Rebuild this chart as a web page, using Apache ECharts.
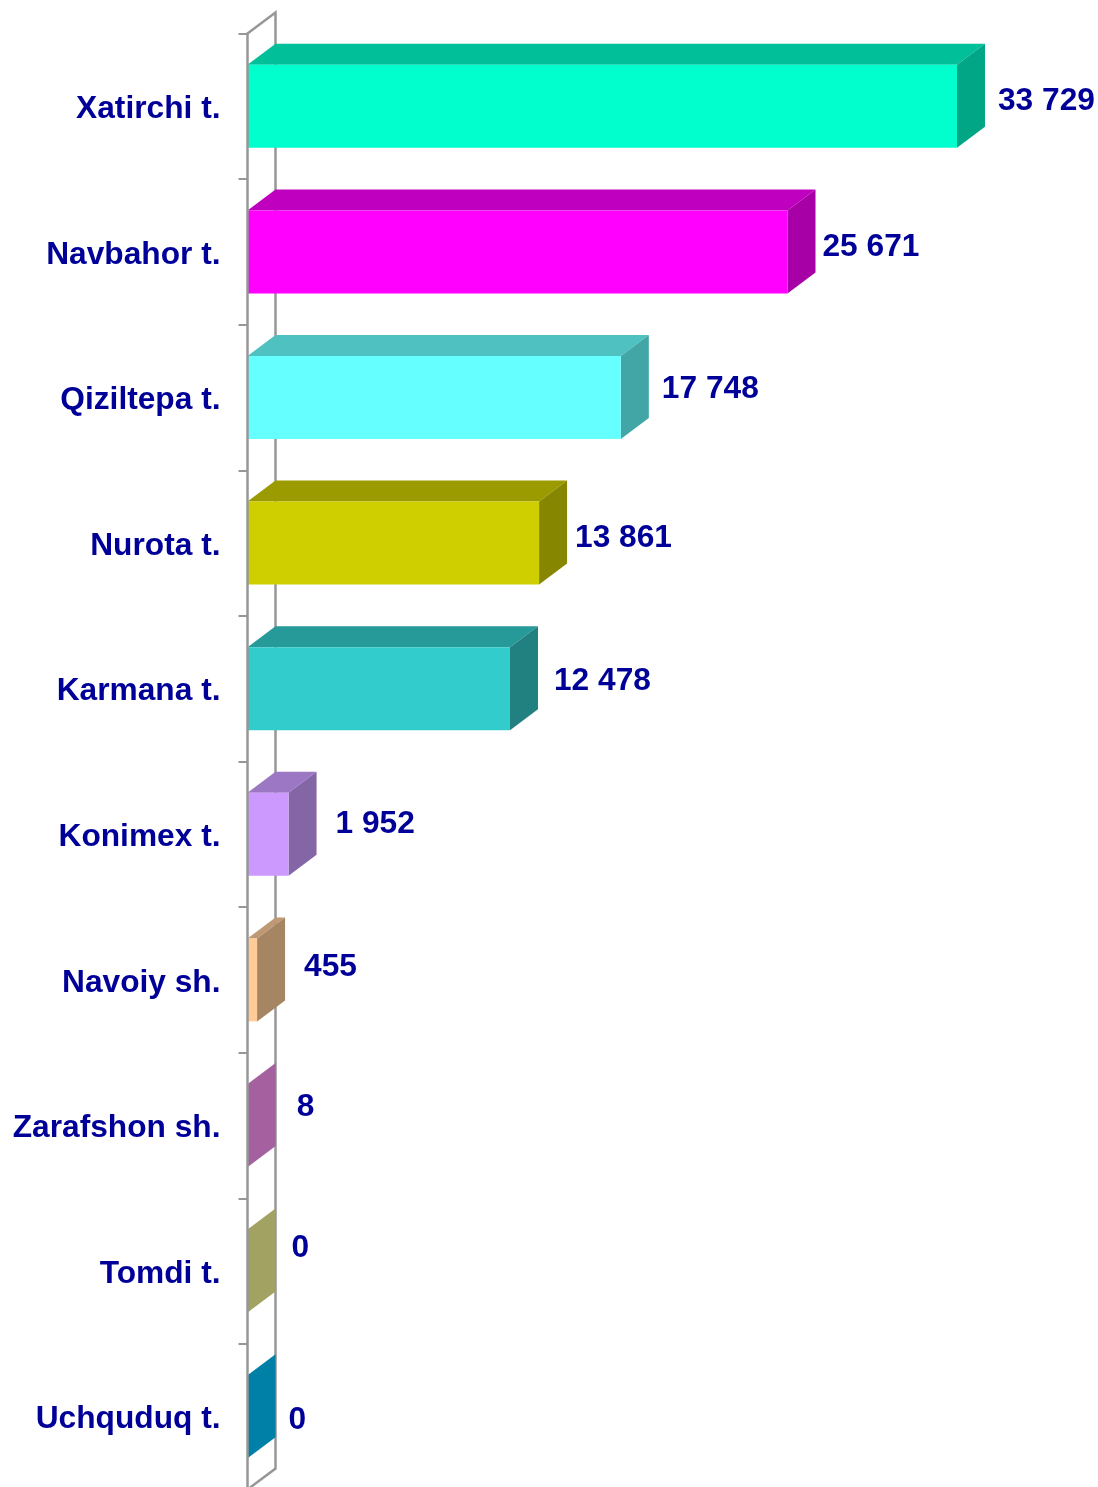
<!DOCTYPE html>
<html>
<head>
<meta charset="utf-8">
<style>
html, body { margin: 0; padding: 0; background: #fff; }
#chart { width: 1098px; height: 1487px; }
</style>
<script src="https://cdn.jsdelivr.net/npm/echarts@6/dist/echarts.min.js"></script>
</head>
<body>
<div id="chart"></div>
<script>
var categories = ['Xatirchi t.', 'Navbahor t.', 'Qiziltepa t.', 'Nurota t.', 'Karmana t.', 'Konimex t.', 'Navoiy sh.', 'Zarafshon sh.', 'Tomdi t.', 'Uchquduq t.'];
var values = [33729, 25671, 17748, 13861, 12478, 1952, 455, 8, 0, 0];
var valueLabels = ['33 729', '25 671', '17 748', '13 861', '12 478', '1 952', '455', '8', '0', '0'];

var frontColors = ['#00FFCC', '#FF00FF', '#66FFFF', '#CFCF00', '#33CCCC', '#CC99FF', '#FFCC99', '#FF99F5', '#F9F997', '#00C5FF'];
var topColors = ['#00BF99', '#BF00BF', '#4FC1C1', '#9B9B00', '#269999', '#9C77C4', '#BF9973', '#BF73B8', '#BBBB71', '#0094BF'];
var sideColors = ['#00A685', '#A600A6', '#42A6A6', '#868600', '#218080', '#8466A6', '#A68563', '#A5619F', '#A2A262', '#0080A6'];

// label nudges from the bar end / band centre, the labels in the picture are hand placed
var labelDx = [41, 35, 41, 36, 44, 47, 47, 49, 44, 41];
var labelDy = [-5, -5, -8, -5, -7, -10, -13, -18, -23, 4];

var depthX = 28;
var depthY = 21;
var barHeight = 83;
var textColor = '#000099';
var wallColor = '#979797';
var fontFamily = '"Liberation Sans", Arial, sans-serif';
var fontSize = 31.7;

function poly(points, color) {
    return {
        type: 'polygon',
        shape: { points: points },
        style: { fill: color, stroke: null }
    };
}

function renderWall(params) {
    var c = params.coordSys;
    var x = c.x;
    var top = c.y;
    var bottom = c.y + c.height;
    return {
        type: 'polyline',
        shape: {
            points: [
                [x, top],
                [x + depthX, top - depthY],
                [x + depthX, bottom - depthY],
                [x, bottom]
            ]
        },
        style: { fill: null, stroke: wallColor, lineWidth: 2.5 }
    };
}

function renderBar(params, api) {
    var i = params.dataIndex;
    var end = api.coord([api.value(0), api.value(1)]);
    var start = api.coord([0, api.value(1)]);
    var x0 = start[0];
    var x1 = end[0];
    var y0 = end[1] - barHeight / 2;
    var y1 = end[1] + barHeight / 2;
    return {
        type: 'group',
        children: [
            poly([[x0, y0], [x1, y0], [x1 + depthX, y0 - depthY], [x0 + depthX, y0 - depthY]], topColors[i]),
            poly([[x1, y0], [x1 + depthX, y0 - depthY], [x1 + depthX, y1 - depthY], [x1, y1]], sideColors[i]),
            poly([[x0, y0], [x1, y0], [x1, y1], [x0, y1]], frontColors[i]),
            {
                type: 'text',
                style: {
                    text: valueLabels[i],
                    x: x1 + labelDx[i],
                    y: end[1] + labelDy[i],
                    fill: textColor,
                    font: 'bold ' + fontSize + 'px ' + fontFamily,
                    align: 'left',
                    verticalAlign: 'middle'
                }
            }
        ]
    };
}

var chart = echarts.init(document.getElementById('chart'));
chart.setOption({
    animation: false,
    backgroundColor: '#ffffff',
    grid: {
        left: 247.5,
        top: 33.5,
        width: 841.4,
        height: 1456,
        outerBoundsMode: 'none'
    },
    xAxis: {
        type: 'value',
        min: 0,
        max: 40000,
        show: false
    },
    yAxis: {
        type: 'category',
        inverse: true,
        data: categories,
        z: 5,
        axisLine: { show: true, lineStyle: { color: wallColor, width: 2.5 } },
        axisTick: { show: true, length: 9, lineStyle: { color: wallColor, width: 2 } },
        axisLabel: {
            margin: 27,
            formatter: '{n|{value}}',
            rich: {
                n: {
                    padding: [6, 0, 0, 0],
                    color: textColor,
                    fontFamily: fontFamily,
                    fontWeight: 'bold',
                    fontSize: fontSize
                }
            }
        }
    },
    series: [
        {
            type: 'custom',
            silent: true,
            z: 1,
            renderItem: renderWall,
            data: [[0, 0]]
        },
        {
            type: 'custom',
            silent: true,
            z: 2,
            renderItem: renderBar,
            encode: { x: 0, y: 1 },
            data: values.map(function (v, i) { return [v, i]; })
        }
    ]
});
</script>
</body>
</html>
